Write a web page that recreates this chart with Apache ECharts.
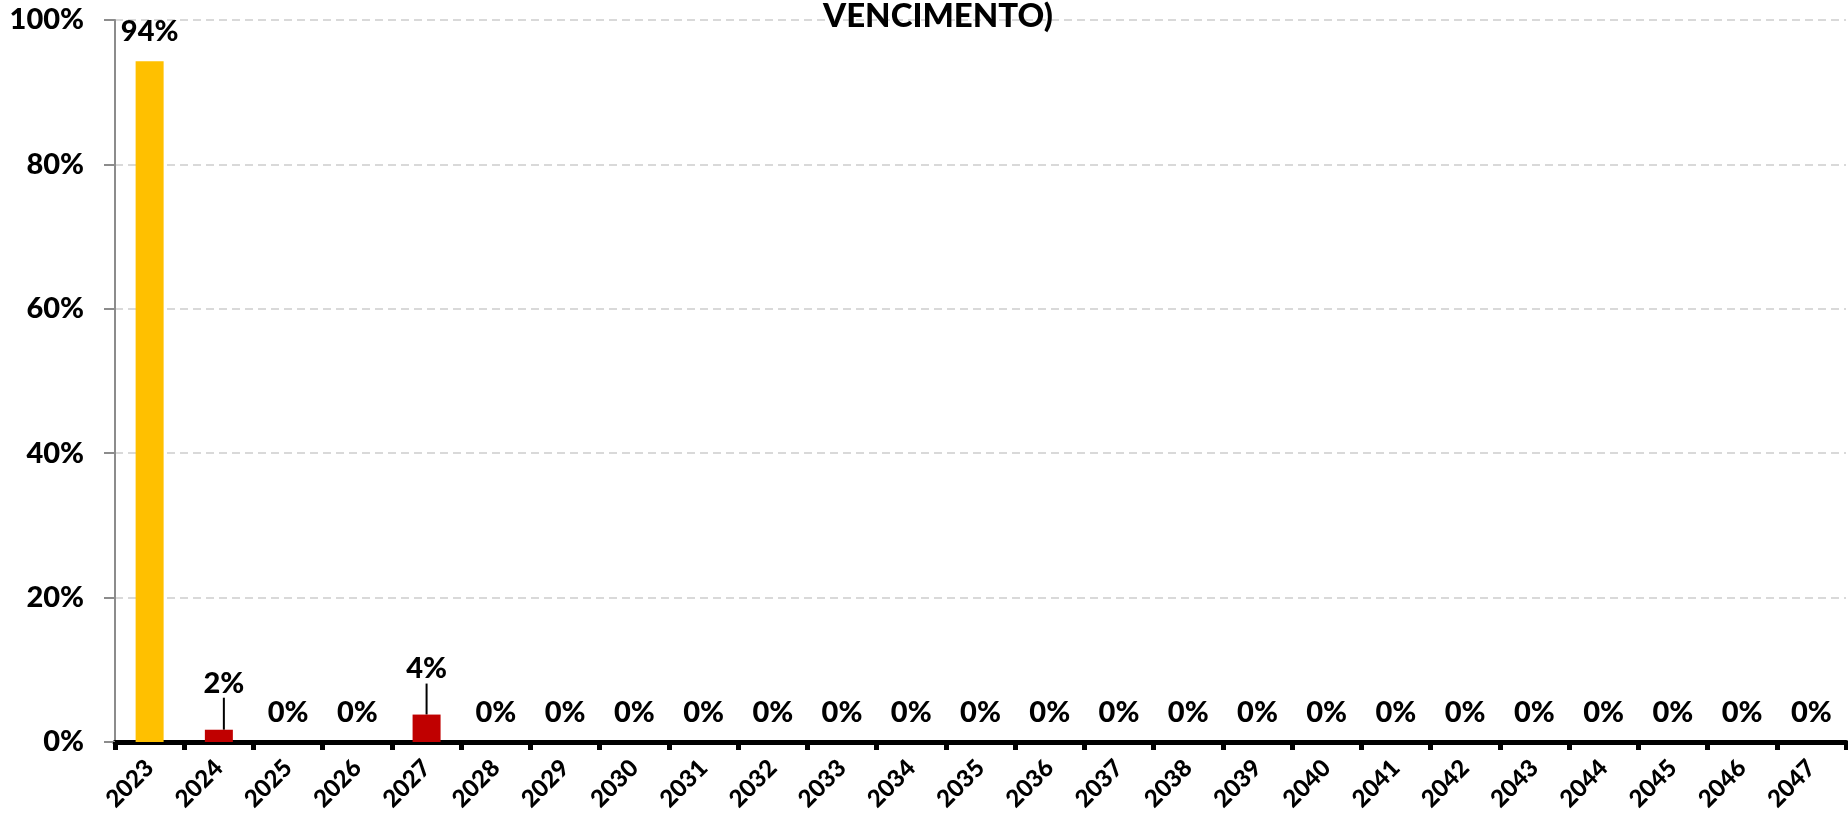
<!DOCTYPE html>
<html>
<head>
<meta charset="utf-8">
<script src="https://cdn.jsdelivr.net/npm/echarts@6/dist/echarts.min.js"></script>
<style>
html,body{margin:0;padding:0;background:#fff;}
#chart{width:1848px;height:818px;}
</style>
</head>
<body>
<div id="chart"></div>
<script>
const titleText = 'VENCIMENTO)';
const years = ['2023','2024','2025','2026','2027','2028','2029','2030','2031','2032','2033','2034','2035','2036','2037','2038','2039','2040','2041','2042','2043','2044','2045','2046','2047'];
const shares = [94.3,1.7,0,0,3.8,0,0,0,0,0,0,0,0,0,0,0,0,0,0,0,0,0,0,0,0];
const yTicks = [0,20,40,60,80,100];
const leaderIdx = [1,4];

const FONT = 'Lato, "Open Sans", sans-serif';
const W = 900;
const chart = echarts.init(document.getElementById('chart'), null, {renderer:'canvas'});

const seriesData = shares.map(function(v,i){
  return leaderIdx.indexOf(i) >= 0
    ? {value:v, labelLine:{show:true, lineStyle:{color:'#000', width:2}}}
    : v;
});

chart.setOption({
  backgroundColor:'#ffffff',
  animation:false,
  title:{
    text:titleText,
    left:823,
    top:0,
    padding:0,
    textStyle:{fontFamily:FONT,fontWeight:W,fontSize:33,color:'#000'}
  },
  grid:{left:115,right:2,top:20,bottom:76,containLabel:false,outerBoundsMode:'none'},
  xAxis:{
    type:'category',
    data:years,
    boundaryGap:true,
    axisLine:{show:true,lineStyle:{color:'#000',width:5}},
    axisTick:{show:true,length:8,lineStyle:{color:'#000',width:5}},
    axisLabel:{rotate:45,margin:22,fontFamily:FONT,fontWeight:W,fontSize:24,color:'#000',interval:0},
    splitLine:{show:false}
  },
  yAxis:{
    type:'value',
    min:yTicks[0],
    max:yTicks[yTicks.length-1],
    interval:yTicks[1]-yTicks[0],
    axisLine:{show:true,lineStyle:{color:'#8c8c8c',width:2}},
    axisTick:{show:true,length:11,lineStyle:{color:'#8c8c8c',width:2}},
    axisLabel:{margin:31,formatter:'{value}%',fontFamily:FONT,fontWeight:W,fontSize:29,color:'#000'},
    splitLine:{show:true,lineStyle:{color:'#d9d9d9',width:2,type:[8,5]}}
  },
  series:[{
    type:'bar',
    data:seriesData,
    barWidth:28,
    itemStyle:{color:function(p){return p.dataIndex===0?'#FFC000':'#C00000';}},
    label:{
      show:true,
      position:'top',
      distance:15,
      formatter:function(p){return Math.round(p.value)+'%';},
      fontFamily:FONT,fontWeight:W,fontSize:29,color:'#000'
    },
    labelLine:{show:false},
    labelLayout:function(p){
      if(p.dataIndex===1){return {dx:5,dy:-17};}
      if(p.dataIndex===4){return {dx:0,dy:-16};}
      return null;
    }
  }]
});
</script>
</body>
</html>
